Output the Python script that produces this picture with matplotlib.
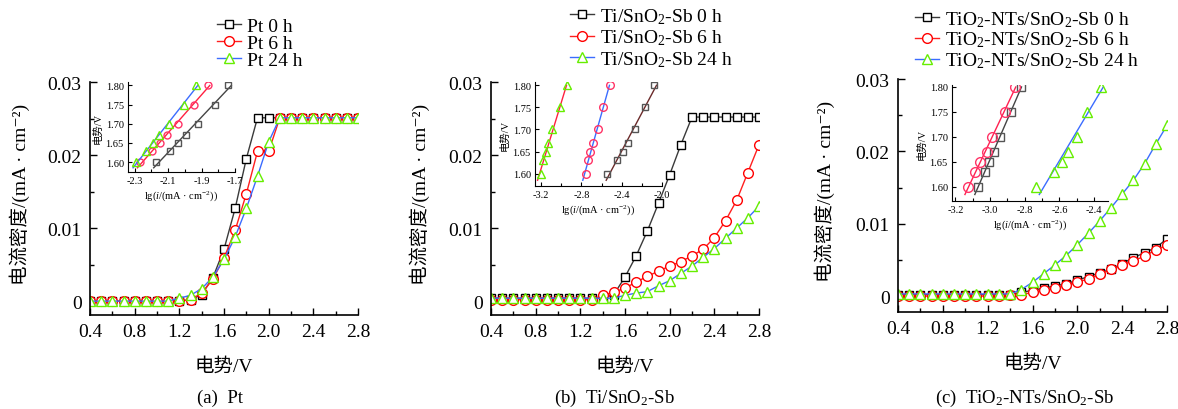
import numpy as np
import matplotlib.pyplot as plt

plt.rcParams['font.family'] = ['Liberation Serif', 'Noto Sans CJK SC', 'DejaVu Serif']
plt.rcParams['mathtext.fontset'] = 'custom'
plt.rcParams['mathtext.rm'] = 'Liberation Serif'
plt.rcParams['mathtext.it'] = 'Liberation Serif:italic'
plt.rcParams['xtick.direction'] = 'in'
plt.rcParams['ytick.direction'] = 'in'

# potential (V)
E = [0.4, 0.5, 0.6, 0.7, 0.8, 0.9, 1.0, 1.1, 1.2, 1.3, 1.4, 1.5, 1.6,
     1.7, 1.8, 1.9, 2.0, 2.1, 2.2, 2.3, 2.4, 2.5, 2.6, 2.7, 2.8]

# current density (mA/cm2)
pt_0 = [0, 0, 0, 0, 0, 0, 0, 0, 0, 0.0002, 0.0009, 0.0032, 0.0071, 0.0127, 0.0195,
        0.0251, 0.0251, 0.0251, 0.0251, 0.0251, 0.0251, 0.0251, 0.0251, 0.0251, 0.0251]
pt_6 = [0, 0, 0, 0, 0, 0, 0, 0, 0, 0.0002, 0.0011, 0.0030, 0.0059, 0.0097, 0.0147,
        0.0205, 0.0205, 0.0251, 0.0251, 0.0251, 0.0251, 0.0251, 0.0251, 0.0251, 0.0251]
pt_24 = [0, 0, 0, 0, 0, 0, 0, 0, 0.0004, 0.0008, 0.0017, 0.0033, 0.0057, 0.0088, 0.0127,
         0.0171, 0.0218, 0.0251, 0.0251, 0.0251, 0.0251, 0.0251, 0.0251, 0.0251, 0.0251]

ti_0 = [0.0004, 0.0004, 0.0004, 0.0004, 0.0004, 0.0004, 0.0004, 0.0004, 0.0004, 0.0004,
        0.0004, 0.0009, 0.0033, 0.0062, 0.0096, 0.0134, 0.0173, 0.0214, 0.0252, 0.0252,
        0.0252, 0.0252, 0.0252, 0.0252, 0.0252]
ti_6 = [0.0002, 0.0002, 0.0002, 0.0002, 0.0002, 0.0002, 0.0002, 0.0002, 0.0002, 0.0002,
        0.0008, 0.0012, 0.0018, 0.0026, 0.0034, 0.0041, 0.0048, 0.0054, 0.0062, 0.0071,
        0.0087, 0.0110, 0.0138, 0.0176, 0.0214]
ti_24 = [0.0004, 0.0004, 0.0004, 0.0004, 0.0004, 0.0004, 0.0004, 0.0004, 0.0004, 0.0004,
         0.0004, 0.0004, 0.0008, 0.0011, 0.0013, 0.0021, 0.0028, 0.0038, 0.0048, 0.0060,
         0.0072, 0.0086, 0.0100, 0.0114, 0.0130]

nts_0 = [0.0002, 0.0002, 0.0002, 0.0002, 0.0002, 0.0002, 0.0002, 0.0002, 0.0002, 0.0002,
         0.0002, 0.0005, 0.0008, 0.0011, 0.0014, 0.0017, 0.0022, 0.0027, 0.0032, 0.0037,
         0.0045, 0.0053, 0.0060, 0.0067, 0.0079]
nts_6 = [0, 0, 0, 0, 0, 0, 0, 0, 0, 0, 0.0001, 0.0002, 0.0005, 0.0008, 0.0011, 0.0015,
         0.0019, 0.0024, 0.0030, 0.0037, 0.0043, 0.0049, 0.0055, 0.0064, 0.0070]
nts_24 = [0.0003, 0.0003, 0.0003, 0.0003, 0.0003, 0.0003, 0.0003, 0.0003, 0.0003, 0.0003,
          0.0003, 0.0009, 0.0019, 0.0031, 0.0043, 0.0056, 0.0071, 0.0087, 0.0104, 0.0122,
          0.0141, 0.0160, 0.0183, 0.0210, 0.0236]

# Tafel insets: potential vs lg(i)
V_tafel = [1.60, 1.63, 1.65, 1.67, 1.70, 1.75, 1.80]
lg_pt_0 = [-2.173, -2.090, -2.041, -1.992, -1.924, -1.820, -1.741]
lg_pt_6 = [-2.267, -2.194, -2.149, -2.106, -2.041, -1.947, -1.863]
lg_pt_24 = [-2.290, -2.231, -2.192, -2.153, -2.094, -2.006, -1.933]
lg_ti_0 = [-2.550, -2.450, -2.390, -2.340, -2.266, -2.167, -2.077]
lg_ti_6 = [-2.757, -2.737, -2.714, -2.681, -2.638, -2.590, -2.516]
lg_ti_24 = [-3.200, -3.177, -3.150, -3.128, -3.094, -3.012, -2.939]
lg_nts_0 = [-3.071, -3.032, -3.008, -2.980, -2.943, -2.879, -2.822]
lg_nts_6 = [-3.130, -3.085, -3.057, -3.020, -2.990, -2.917, -2.857]
lg_nts_24 = [-2.733, -2.629, -2.585, -2.552, -2.499, -2.444, -2.362]

W, H = 1178, 410
fig = plt.figure(figsize=(W / 100, H / 100), dpi=100)


def box(l, t, r, b):
    return [l / W, 1 - b / H, (r - l) / W, (b - t) / H]


def main_panel(rect, series, labels, ybot, leg_xy, ylab_x, lspace):
    ax = fig.add_axes(rect)
    styles = [dict(marker='s', mec='black', color='#3a3a3a', ms=6),
              dict(marker='o', mec='red', color='#ff1f1f', ms=7),
              dict(marker='^', mec='#66ee00', color='#3b6cff', ms=7.5)]
    for y, lab, st in zip(series, labels, styles):
        ax.plot(E, y, lw=1, mfc='white', mew=1, label=lab, **st)
    ax.set_xlim(0.4, 2.8)
    ax.set_ylim(ybot, 0.03)
    ax.set_xticks([0.4, 0.8, 1.2, 1.6, 2.0, 2.4, 2.8],
                  ['0.4', '0.8', '1.2', '1.6', '2.0', '2.4', '2.8'])
    ax.set_xticks([0.6, 1.0, 1.4, 1.8, 2.2, 2.6], minor=True)
    ax.set_yticks([0, 0.01, 0.02, 0.03], ['0', '0.01', '0.02', '0.03'])
    ax.set_yticks([0.005, 0.015, 0.025], minor=True)
    ax.tick_params(labelsize=14, length=5, width=1, pad=6)
    ax.tick_params(which='minor', length=3, width=1)
    ax.spines['top'].set_visible(False)
    ax.spines['right'].set_visible(False)
    for s in ['left', 'bottom']:
        ax.spines[s].set_linewidth(1.2)
    ax.set_xlabel('电势/V', fontsize=14)
    ax.xaxis.set_label_coords(0.5, -0.18)
    ax.set_ylabel('电流密度/(mA · cm⁻²)', fontsize=14)
    ax.yaxis.set_label_coords(ylab_x, 0.52)
    fig.legend(*ax.get_legend_handles_labels(), loc='upper left',
               bbox_to_anchor=leg_xy, frameon=False, fontsize=14,
               borderpad=0, borderaxespad=0, handlelength=1.25,
               handletextpad=0.3, labelspacing=lspace)
    return ax


def inset(rect, xs, cols, xlim, ylim, xmaj, xmin, ms):
    ax = fig.add_axes(rect)
    marks = [dict(marker='s', mec='#555555'), dict(marker='o', mec='#ff3366'),
             dict(marker='^', mec='#66ee00')]
    for x, c, mk, m in zip(xs, cols, marks, ms):
        k, b = np.polyfit(V_tafel, x, 1)
        vv = np.array([V_tafel[0] - 0.015, V_tafel[-1]])
        ax.plot(k * vv + b, vv, color=c, lw=1)
        ax.plot(x, V_tafel, ls='none', mfc='none', mew=1, ms=m, **mk)
    ax.set_xlim(*xlim)
    ax.set_ylim(*ylim)
    ax.set_xticks(xmaj, ['%.1f' % v for v in xmaj])
    ax.set_xticks(xmin, minor=True)
    ax.set_yticks([1.60, 1.65, 1.70, 1.75, 1.80],
                  ['1.60', '1.65', '1.70', '1.75', '1.80'])
    ax.tick_params(labelsize=7.5, length=3, width=0.8, pad=3)
    ax.tick_params(which='minor', length=2, width=0.8)
    ax.spines['top'].set_visible(False)
    ax.spines['right'].set_visible(False)
    ax.patch.set_alpha(0)
    ax.set_xlabel(r'lg($\mathit{i}$/(mA · cm$^{-2}$))', fontsize=7.5, labelpad=2)
    ax.set_ylabel('电势/V', fontsize=7.5, labelpad=2)
    return ax


# (a) Pt
main_panel(box(90, 83, 358, 316), [pt_0, pt_6, pt_24],
           ['Pt 0 h', 'Pt 6 h', 'Pt 24 h'], -0.0019, (217 / W, 1 - 18 / H),
           -0.224, -0.02)
inset(box(128, 83, 235, 173), [lg_pt_0, lg_pt_6, lg_pt_24],
      ['#444444', '#ff2040', '#3b6cff'], (-2.34, -1.70), (1.574, 1.809),
      [-2.3, -2.1, -1.9, -1.7], [-2.2, -2.0, -1.8], [4.5, 5, 5.5])

# (b) Ti/SnO2-Sb
main_panel(box(491, 83, 759, 316), [ti_0, ti_6, ti_24],
           [r'Ti/SnO$_2$-Sb 0 h', r'Ti/SnO$_2$-Sb 6 h', r'Ti/SnO$_2$-Sb 24 h'],
           -0.0019, (570 / W, 1 - 7 / H), -0.228, 0.1)
inset(box(535, 83, 662, 187), [lg_ti_0, lg_ti_6, lg_ti_24],
      ['#6b2a2a', '#3b6cff', '#ff2040'], (-3.26, -2.0), (1.572, 1.8075),
      [-3.2, -2.8, -2.4, -2.0], [-3.0, -2.6, -2.2], [5, 5.5, 6])

# (c) TiO2-NTs/SnO2-Sb
main_panel(box(898, 80, 1167, 313), [nts_0, nts_6, nts_24],
           [r'TiO$_2$-NTs/SnO$_2$-Sb 0 h', r'TiO$_2$-NTs/SnO$_2$-Sb 6 h',
            r'TiO$_2$-NTs/SnO$_2$-Sb 24 h'],
           -0.0022, (915 / W, 1 - 10 / H), -0.234, 0.05)
inset(box(952, 86, 1108, 202), [lg_nts_0, lg_nts_6, lg_nts_24],
      ['#444444', '#ff2050', '#3b6cff'], (-3.22, -2.32), (1.572, 1.804),
      [-3.2, -3.0, -2.8, -2.6, -2.4], [-3.1, -2.9, -2.7, -2.5], [6, 7, 7.5])

fig.text(220 / W, 1 - 398 / H, '(a)  Pt', fontsize=13.5, ha='center', va='center')
fig.text(614 / W, 1 - 398 / H, r'(b)  Ti/SnO$_2$-Sb', fontsize=13.5, ha='center', va='center')
fig.text(1025 / W, 1 - 398 / H, r'(c)  TiO$_2$-NTs/SnO$_2$-Sb', fontsize=13.5,
         ha='center', va='center')

fig.savefig('out.png', dpi=100)
